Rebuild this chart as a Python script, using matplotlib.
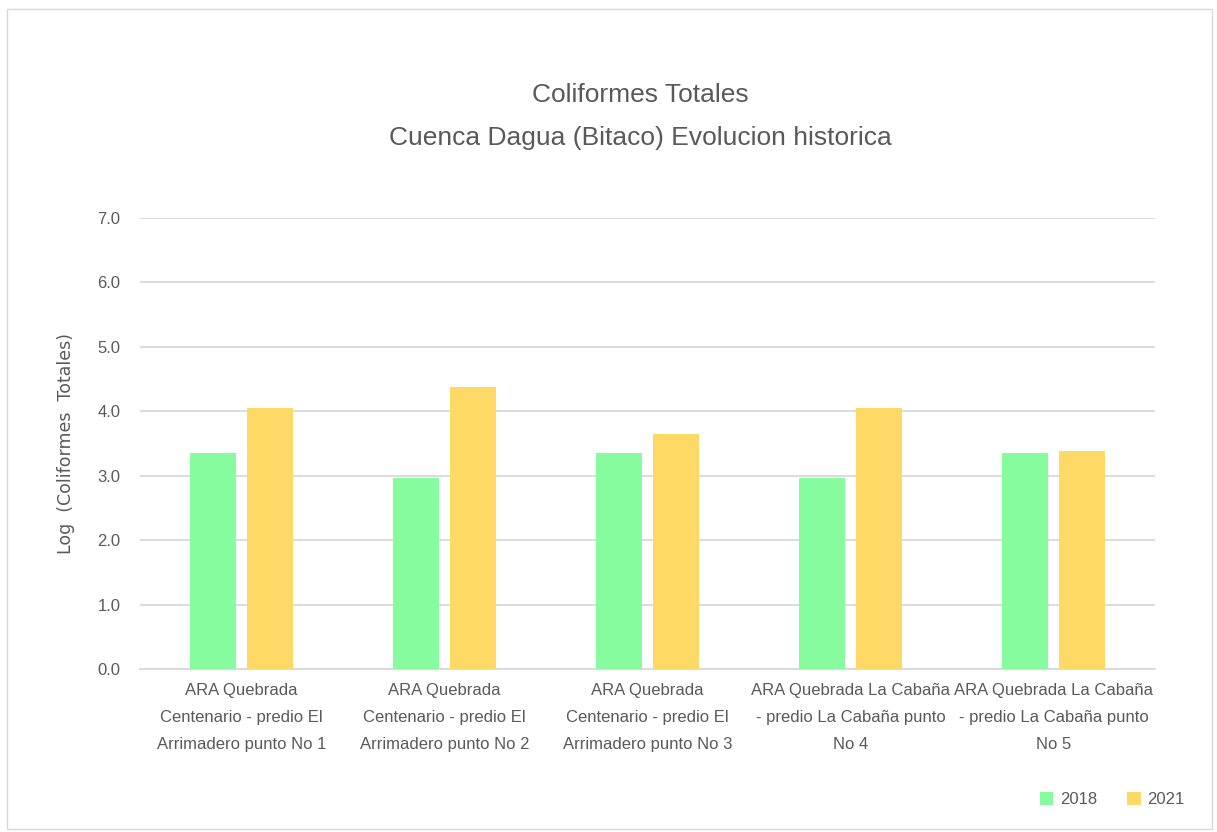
import numpy as np
import matplotlib.pyplot as plt
from matplotlib.patches import Rectangle

plt.rcParams['font.family'] = ['Liberation Sans Narrow', 'Liberation Sans', 'DejaVu Sans']

categories = [
    "ARA Quebrada\nCentenario - predio El\nArrimadero punto No 1",
    "ARA Quebrada\nCentenario - predio El\nArrimadero punto No 2",
    "ARA Quebrada\nCentenario - predio El\nArrimadero punto No 3",
    "ARA Quebrada La Cabaña\n- predio La Cabaña punto\nNo 4",
    "ARA Quebrada La Cabaña\n- predio La Cabaña punto\nNo 5",
]
values_2018 = [3.35, 2.96, 3.35, 2.96, 3.35]
values_2021 = [4.05, 4.38, 3.65, 4.05, 3.39]

text_color = '#595959'
green = '#86FC9F'
yellow = '#FFD966'

fig = plt.figure(figsize=(12.17, 8.32), dpi=100)
fig.patches.append(Rectangle((0.006, 0.004), 0.99, 0.985, transform=fig.transFigure,
                             fill=False, edgecolor='#D9D9D9', linewidth=1))
ax = fig.add_axes([0.115, 0.196, 0.834, 0.542])

x = np.arange(len(categories))
w = 0.225
ax.bar(x - 0.14, values_2018, w, color=green, label='2018', zorder=3)
ax.bar(x + 0.14, values_2021, w, color=yellow, label='2021', zorder=3)

ax.set_xlim(-0.5, len(categories) - 0.5)
ax.set_ylim(0, 7)
ax.set_yticks(np.arange(0, 8, 1))
ax.set_yticklabels([f'{v:.1f}' for v in np.arange(0, 8, 1)])
ax.yaxis.grid(True, color='#D9D9D9', linewidth=1.3, zorder=0)
ax.set_axisbelow(True)
for s in ['top', 'right', 'left']:
    ax.spines[s].set_visible(False)
ax.spines['bottom'].set_color('#D9D9D9')
ax.spines['bottom'].set_linewidth(1.3)
ax.tick_params(axis='both', length=0, colors=text_color, labelsize=12)
ax.tick_params(axis='y', pad=14)
ax.tick_params(axis='x', pad=10)
ax.set_xticks(x)
ax.set_xticklabels(categories, linespacing=2.0)

ax.set_ylabel('Log  (Coliformes  Totales)', color=text_color, fontsize=12.5,
              labelpad=16, family=['DejaVu Sans'])

fig.text(0.526, 0.886, 'Coliformes Totales', ha='center', va='center',
         fontsize=19, color=text_color)
fig.text(0.526, 0.834, 'Cuenca Dagua (Bitaco) Evolucion historica', ha='center',
         va='center', fontsize=19, color=text_color)

fig.legend(loc='center', bbox_to_anchor=(0.914, 0.039), ncol=2, frameon=False,
           fontsize=12, handlelength=0.8, handleheight=0.8, columnspacing=1.8,
           handletextpad=0.4, labelcolor=text_color)

fig.savefig('out.png', dpi=100, facecolor='white')
